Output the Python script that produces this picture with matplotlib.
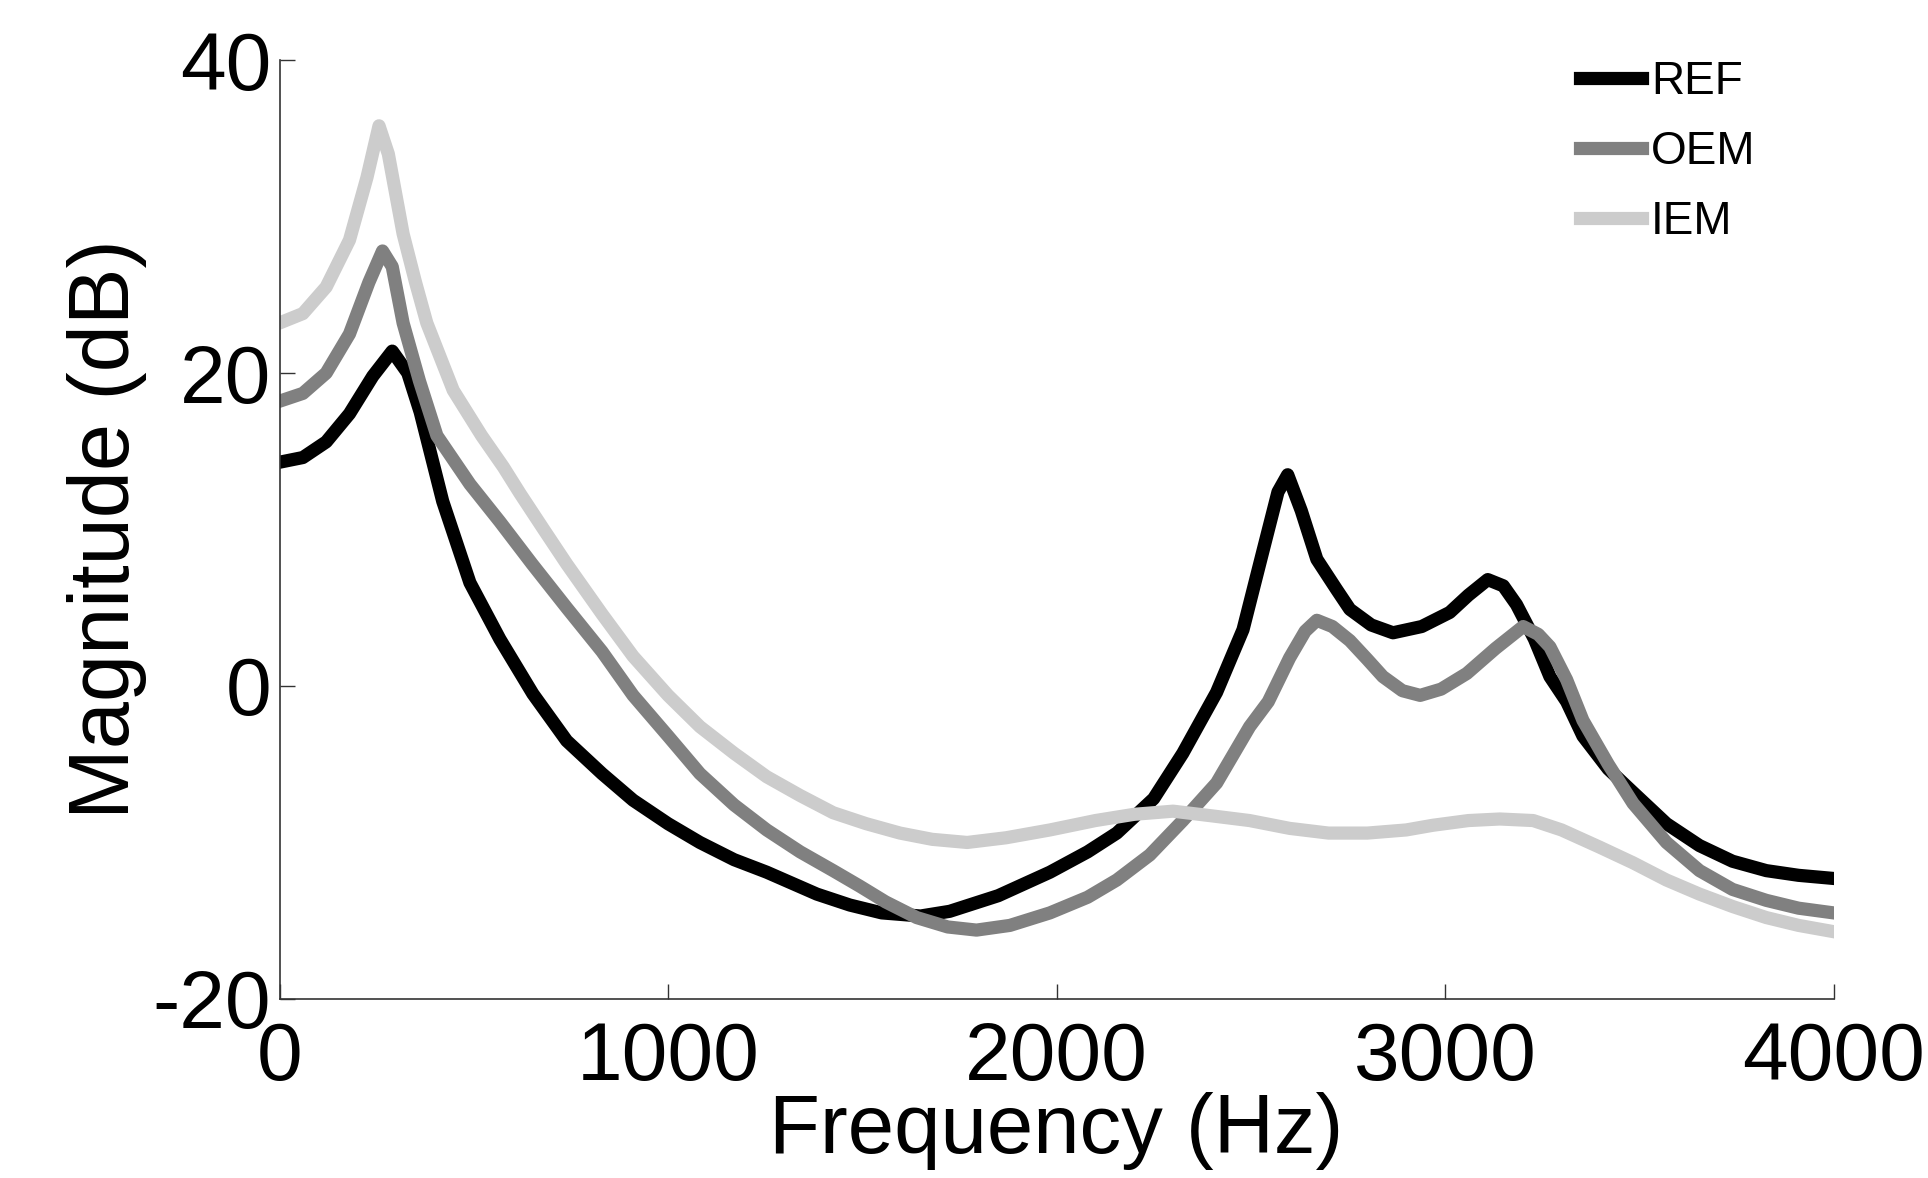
import matplotlib
matplotlib.use("Agg")
import matplotlib.pyplot as plt

plt.rcParams['font.family'] = ['Liberation Sans', 'DejaVu Sans']
plt.rcParams['axes.unicode_minus'] = False

# REF curve (Hz, dB)
ref_f = [0, 60, 120, 180, 240, 290, 330, 362, 420, 490, 567, 652, 739, 830, 910,
         1000, 1082, 1170, 1254, 1383, 1468, 1550, 1650, 1725, 1850, 1983, 2080, 2155,
         2250, 2325, 2412, 2480, 2530, 2570, 2595, 2630, 2670, 2720, 2755, 2810,
         2866, 2940, 3012, 3060, 3110, 3150, 3184, 3230, 3270, 3313, 3355, 3420,
         3484, 3570, 3655, 3740, 3827, 3910, 4000]
ref_db = [14.3, 14.6, 15.6, 17.4, 19.8, 21.4, 20.0, 17.5, 11.8, 6.6, 3.0, -0.5, -3.5,
          -5.6, -7.3, -8.8, -10.0, -11.1, -11.9, -13.3, -14.0, -14.5, -14.7, -14.4,
          -13.4, -11.9, -10.6, -9.4, -7.2, -4.3, -0.4, 3.6, 8.5, 12.4, 13.5, 11.2, 8.1,
          6.2, 4.9, 3.9, 3.4, 3.8, 4.7, 5.8, 6.8, 6.4, 5.2, 3.0, 0.6, -1.0, -3.2, -5.3,
          -6.8, -8.8, -10.2, -11.2, -11.8, -12.1, -12.3]

# OEM curve
oem_f = [0, 60, 120, 180, 230, 265, 290, 318, 360, 405, 490, 567, 650, 739, 830, 910,
         1000, 1082, 1170, 1254, 1340, 1425, 1494, 1560, 1640, 1720, 1794, 1880, 1983,
         2080, 2155, 2240, 2325, 2412, 2497, 2545, 2600, 2640, 2670, 2710, 2755, 2800,
         2840, 2890, 2936, 2990, 3056, 3130, 3201, 3240, 3270, 3313, 3355, 3420, 3484,
         3570, 3655, 3740, 3827, 3910, 4000]
oem_db = [18.2, 18.7, 20.0, 22.5, 25.8, 27.8, 26.8, 23.2, 19.5, 16.0, 12.9, 10.5, 7.8,
          5.0, 2.2, -0.6, -3.2, -5.6, -7.6, -9.2, -10.6, -11.8, -12.8, -13.8, -14.8,
          -15.4, -15.6, -15.3, -14.5, -13.5, -12.4, -10.8, -8.6, -6.2, -2.6, -1.0, 1.8,
          3.5, 4.2, 3.8, 2.9, 1.7, 0.6, -0.3, -0.6, -0.2, 0.8, 2.4, 3.8, 3.3, 2.5, 0.4,
          -2.2, -5.0, -7.5, -10.0, -11.8, -13.0, -13.7, -14.2, -14.5]

# IEM curve
iem_f = [0, 60, 120, 180, 225, 256, 280, 318, 350, 379, 447, 520, 576, 619, 680, 739,
         830, 910, 1000, 1082, 1170, 1254, 1340, 1425, 1510, 1597, 1680, 1770, 1870,
         1983, 2100, 2200, 2300, 2400, 2497, 2600, 2700, 2800, 2900, 2969, 3060, 3141,
         3227, 3300, 3398, 3484, 3570, 3655, 3741, 3827, 3910, 4000]
iem_db = [23.2, 23.8, 25.5, 28.5, 32.5, 35.8, 34.0, 28.9, 25.8, 23.2, 18.9, 16.0, 14.0,
          12.3, 10.0, 7.8, 4.6, 1.9, -0.6, -2.6, -4.3, -5.8, -7.0, -8.1, -8.8, -9.4,
          -9.8, -10.0, -9.7, -9.2, -8.6, -8.2, -8.0, -8.3, -8.6, -9.1, -9.4, -9.4, -9.2,
          -8.9, -8.6, -8.5, -8.6, -9.2, -10.3, -11.3, -12.4, -13.3, -14.1, -14.8, -15.3,
          -15.7]

fig = plt.figure(figsize=(19.28, 11.78), dpi=100)
ax = fig.add_axes([0.145, 0.152, 0.806, 0.797])

ax.plot(ref_f, ref_db, color="#000000", linewidth=9.5, label="REF")
ax.plot(oem_f, oem_db, color="#808080", linewidth=9.5, label="OEM")
ax.plot(iem_f, iem_db, color="#cccccc", linewidth=9.5, label="IEM")

ax.set_xlim(0, 4000)
ax.set_ylim(-20, 40)
ax.set_xticks([0, 1000, 2000, 3000, 4000])
ax.set_yticks([-20, 0, 20, 40])

ax.spines["top"].set_visible(False)
ax.spines["right"].set_visible(False)
for s in ["left", "bottom"]:
    ax.spines[s].set_linewidth(1.2)
    ax.spines[s].set_color("#333333")

ax.tick_params(direction="in", length=11, width=1, labelsize=59, colors="#333333",
               labelcolor="black")
ax.tick_params(axis="x", pad=16)
ax.tick_params(axis="y", pad=6)

ax.set_xlabel("Frequency (Hz)", fontsize=60, labelpad=-4)
ax.set_ylabel("Magnitude (dB)", fontsize=61, labelpad=4)

ax.legend(loc="upper left", bbox_to_anchor=(1580 / 1928, 1 - 60 / 1178),
          bbox_transform=fig.transFigure, frameon=False, fontsize=33,
          handlelength=1.35, handletextpad=0.2, labelspacing=0.57,
          borderpad=0, borderaxespad=0)

fig.savefig("out.png", dpi=100)
